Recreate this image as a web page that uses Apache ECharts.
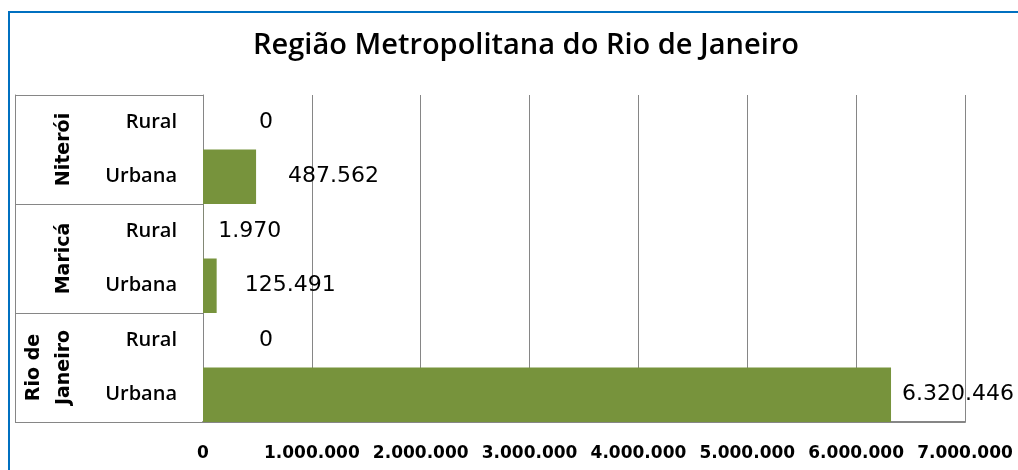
<!DOCTYPE html>
<html>
<head>
<meta charset="utf-8">
<script src="https://cdn.jsdelivr.net/npm/echarts@6/dist/echarts.min.js"></script>
<style>
  html, body { margin: 0; padding: 0; background: #fff; }
  #chart { width: 1018px; height: 470px; }
</style>
</head>
<body>
<div id="chart"></div>
<script>
const titleText = "Região Metropolitana do Rio de Janeiro";
const zones = ["Rural", "Urbana", "Rural", "Urbana", "Rural", "Urbana"];
const cities = ["Niterói", "Maricá", "Rio de\nJaneiro"];
const population = [0, 487562, 1970, 125491, 0, 6320446];
const xTicks = { min: 0, max: 7000000, step: 1000000 };

// excel puts the labels a bit all over the place, copy that
const labelGap = [56, 32, 15, 28, 56, 11];

const fmt = v => String(Math.round(v)).replace(/\B(?=(\d{3})+(?!\d))/g, ".");

const chart = echarts.init(document.getElementById("chart"));

const option = {
  animation: false,
  backgroundColor: "#fff",
  title: {
    text: titleText,
    left: 521,
    textAlign: "center",
    top: 26,
    textStyle: {
      fontFamily: "Open Sans",
      fontSize: 29,
      fontWeight: 600,
      color: "#000"
    }
  },
  graphic: [
    {
      type: "rect",
      shape: { x: 9, y: 12, width: 1030, height: 480 },
      style: { fill: null, stroke: "#0070C0", lineWidth: 2 },
      silent: true
    }
  ],
  grid: {
    left: 203,
    right: 53,
    top: 95,
    bottom: 48
  },
  xAxis: {
    type: "value",
    min: xTicks.min,
    max: xTicks.max,
    interval: xTicks.step,
    axisLine: { show: true, lineStyle: { color: "#868686", width: 2 } },
    axisTick: { show: false },
    splitLine: { show: true, lineStyle: { color: "#868686", width: 1 } },
    axisLabel: {
      margin: 23,
      formatter: fmt,
      fontFamily: "DejaVu Sans",
      fontSize: 17,
      fontWeight: "bold",
      color: "#000"
    }
  },
  yAxis: [
    {
      type: "category",
      inverse: true,
      data: zones,
      axisLine: { show: true, lineStyle: { color: "#868686", width: 1 } },
      axisTick: { show: false },
      axisLabel: {
        margin: 26,
        fontFamily: "Open Sans",
        fontSize: 20,
        fontWeight: 600,
        color: "#000"
      }
    },
    {
      type: "category",
      inverse: true,
      position: "left",
      data: cities,
      axisLine: { show: false },
      axisTick: {
        show: true,
        interval: 0,
        length: 188,
        lineStyle: { color: "#868686", width: 1 }
      },
      axisLabel: {
        rotate: 90,
        margin: 124,
        interval: 0,
        fontFamily: "DejaVu Sans",
        fontSize: 19,
        fontWeight: "bold",
        lineHeight: 30,
        color: "#000"
      }
    },
    {
      type: "category",
      inverse: true,
      position: "left",
      offset: 188,
      data: cities,
      axisLine: { show: true, lineStyle: { color: "#868686", width: 1 } },
      axisTick: { show: false },
      axisLabel: { show: false }
    }
  ],
  series: [
    {
      type: "bar",
      yAxisIndex: 0,
      barCategoryGap: 0,
      itemStyle: { color: "#77933C" },
      data: population.map((v, i) => ({
        value: v,
        label: { distance: labelGap[i] }
      })),
      label: {
        show: true,
        position: "right",
        formatter: p => fmt(p.value),
        fontFamily: "DejaVu Sans",
        fontSize: 22,
        color: "#000"
      }
    }
  ]
};

chart.setOption(option);
</script>
</body>
</html>
